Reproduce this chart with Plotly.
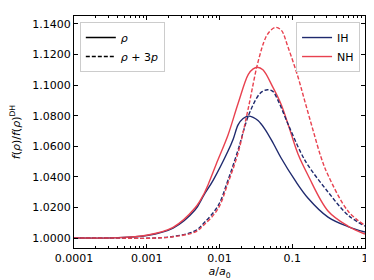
import plotly.graph_objects as go

# scale factor a/a0
a_ih_rho = [1e-4, 3.4e-4, 0.001, 0.0023, 0.0046, 0.0061, 0.0082, 0.0131, 0.0155, 0.018, 0.0211, 0.0249,
            0.029, 0.0338, 0.0418, 0.055, 0.070, 0.110, 0.164, 0.310, 0.583, 1.0]
f_ih_rho = [1.0000, 1.0001, 1.0016, 1.0065, 1.0183, 1.0281, 1.0379, 1.0569, 1.0650, 1.0740, 1.0782, 1.0797,
            1.0789, 1.0768, 1.0714, 1.0618, 1.0525, 1.0375, 1.0262, 1.0137, 1.0075, 1.0039]

a_nh_rho = [1e-4, 3.4e-4, 0.001, 0.0023, 0.0046, 0.0061, 0.00695, 0.0095, 0.0131, 0.018, 0.0249,
            0.029, 0.0331, 0.0395, 0.0543, 0.070, 0.0874, 0.120, 0.164, 0.310, 0.583, 1.0]
f_nh_rho = [1.0000, 1.0001, 1.0018, 1.0070, 1.0196, 1.0288, 1.0347, 1.0510, 1.0674, 1.0880, 1.1070,
            1.1106, 1.1117, 1.1100, 1.0985, 1.0876, 1.0746, 1.0549, 1.0412, 1.0177, 1.0078, 1.0026]

a_ih_r3p = [1e-4, 3.4e-4, 0.001, 0.0023, 0.0046, 0.0061, 0.0095, 0.0131, 0.018, 0.0249, 0.0338,
            0.039, 0.0459, 0.054, 0.0637, 0.0874, 0.132, 0.164, 0.310, 0.583, 1.0]
f_ih_r3p = [1.0000, 1.0000, 0.9998, 1.0010, 1.0046, 1.0098, 1.0209, 1.0379, 1.0576, 1.0798, 1.0929,
            1.0959, 1.0970, 1.0959, 1.0900, 1.0746, 1.0556, 1.0477, 1.0301, 1.0150, 1.0078]

a_nh_r3p = [1e-4, 3.4e-4, 0.001, 0.0023, 0.0046, 0.0061, 0.0095, 0.0131, 0.018, 0.0249, 0.0338,
            0.0435, 0.0505, 0.0598, 0.071, 0.0874, 0.120, 0.150, 0.193, 0.248, 0.310, 0.583, 1.0]
f_nh_r3p = [1.0000, 1.0000, 0.9998, 1.0008, 1.0039, 1.0085, 1.0190, 1.0360, 1.0556, 1.0850, 1.1151,
            1.1315, 1.1358, 1.1378, 1.1358, 1.1249, 1.1053, 1.0889, 1.0706, 1.0530, 1.0412, 1.0177, 1.0082]

x_tickvals = [1e-4, 1e-3, 1e-2, 1e-1, 1]
x_ticktext = ["0.0001", "0.001", "0.01", "0.1", "1"]

NAVY = "#1f2a6e"
RED = "#e8414f"
FONT = "DejaVu Sans"

fig = go.Figure()

def add(x, y, color, dash):
    fig.add_trace(go.Scatter(x=x, y=y, mode="lines", showlegend=False,
                             line=dict(color=color, width=1.4, dash=dash, shape="spline", smoothing=1.0),
                             hoverinfo="skip"))

add(a_ih_rho, f_ih_rho, NAVY, "solid")
add(a_nh_rho, f_nh_rho, RED, "solid")
add(a_ih_r3p, f_ih_r3p, NAVY, "4px,2px")
add(a_nh_r3p, f_nh_r3p, RED, "4px,2px")

# legend entries
fig.add_trace(go.Scatter(x=[None], y=[None], mode="lines", name="<i>ρ</i>",
                         line=dict(color="black", width=1.4), legend="legend"))
fig.add_trace(go.Scatter(x=[None], y=[None], mode="lines", name="<i>ρ</i> + 3<i>p</i>",
                         line=dict(color="black", width=1.4, dash="4px,2px"), legend="legend"))
fig.add_trace(go.Scatter(x=[None], y=[None], mode="lines", name="IH",
                         line=dict(color=NAVY, width=1.4), legend="legend2"))
fig.add_trace(go.Scatter(x=[None], y=[None], mode="lines", name="NH",
                         line=dict(color=RED, width=1.4), legend="legend2"))

fig.update_layout(
    width=374, height=280,
    margin=dict(l=66, r=17, t=8, b=40),
    paper_bgcolor="white", plot_bgcolor="white",
    font=dict(family=FONT, size=11, color="black"),
    legend=dict(x=0.02, y=0.974, xanchor="left", yanchor="top",
                bordercolor="#cccccc", borderwidth=1, bgcolor="white",
                font=dict(size=11), itemwidth=30, tracegroupgap=0),
    legend2=dict(x=0.983, y=0.974, xanchor="right", yanchor="top",
                 bordercolor="#cccccc", borderwidth=1, bgcolor="white",
                 font=dict(size=11), itemwidth=30, tracegroupgap=0),
)

fig.update_xaxes(type="log", range=[-4, 0], tickvals=x_tickvals, ticktext=x_ticktext,
                 ticks="inside", ticklen=4, tickwidth=1, tickcolor="black",
                 showline=True, linecolor="black", linewidth=1, mirror="allticks",
                 showgrid=False, zeroline=False,
                 minor=dict(ticks="inside", ticklen=2, tickcolor="black", dtick="D1", showgrid=False),
                 title=dict(text="<i>a</i>/<i>a</i><sub>0</sub>", standoff=0, font=dict(size=11)),
                 tickfont=dict(size=11))
fig.update_yaxes(range=[0.99346, 1.14523], dtick=0.02, tick0=1.0, tickformat=".4f",
                 ticks="inside", ticklen=4, tickwidth=1, tickcolor="black",
                 showline=True, linecolor="black", linewidth=1, mirror="allticks",
                 showgrid=False, zeroline=False,
                 title=dict(text="<i>f</i>(<i>ρ</i>)/<i>f</i>(<i>ρ</i>)<sup>DH</sup>", standoff=9, font=dict(size=11)),
                 tickfont=dict(size=11))

fig.write_html("out.html")
